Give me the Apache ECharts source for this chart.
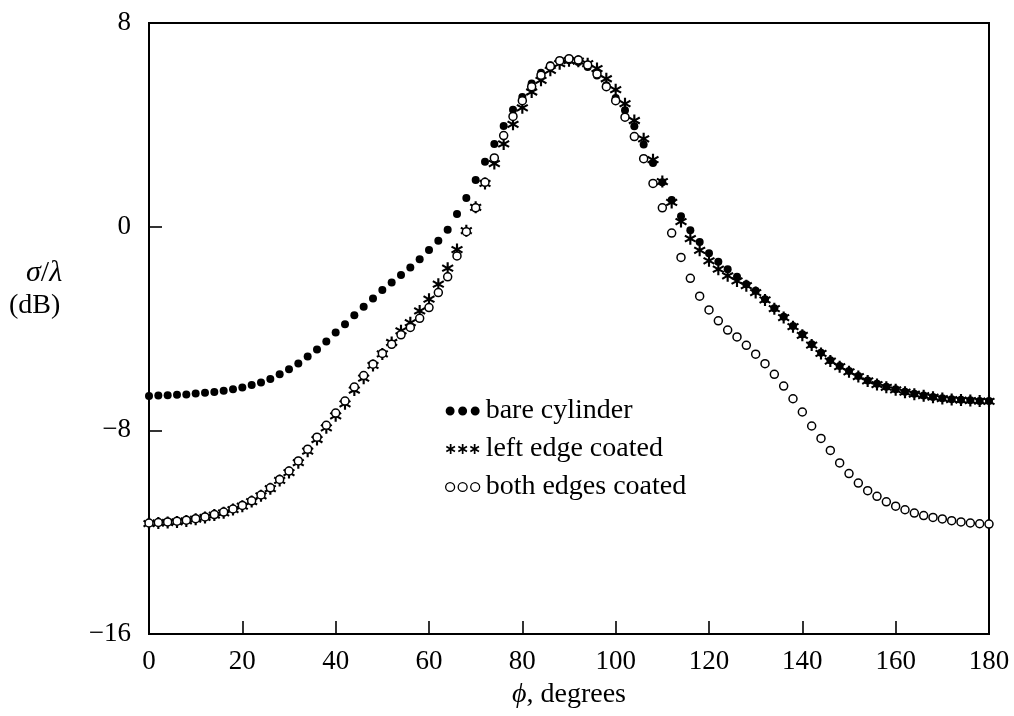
<!DOCTYPE html>
<html>
<head>
<meta charset="utf-8">
<script src="https://cdn.jsdelivr.net/npm/echarts@6/dist/echarts.min.js"></script>
<style>
html,body{margin:0;padding:0;background:#fff;}
#chart{width:1014px;height:716px;}
</style>
</head>
<body>
<div id="chart"></div>
<script>
// ---- data ----
const phiDeg = [
  0,2,4,6,8,10,12,14,16,18,
  20,22,24,26,28,30,32,34,36,38,
  40,42,44,46,48,50,52,54,56,58,
  60,62,64,66,68,70,72,74,76,78,
  80,82,84,86,88,90,92,94,96,98,
  100,102,104,106,108,110,112,114,116,118,
  120,122,124,126,128,130,132,134,136,138,
  140,142,144,146,148,150,152,154,156,158,
  160,162,164,166,168,170,172,174,176,178,
  180
];
const bareCylinder = [
  -6.65,-6.63,-6.62,-6.60,-6.59,-6.55,-6.52,-6.49,-6.45,-6.39,
  -6.32,-6.22,-6.12,-5.98,-5.80,-5.60,-5.37,-5.10,-4.82,-4.51,
  -4.16,-3.83,-3.48,-3.15,-2.82,-2.49,-2.19,-1.90,-1.60,-1.28,
  -0.92,-0.55,-0.12,0.50,1.13,1.83,2.55,3.25,3.95,4.59,
  5.09,5.62,6.05,6.34,6.51,6.54,6.47,6.27,5.94,5.55,
  5.05,4.57,3.94,3.23,2.50,1.74,1.05,0.41,-0.14,-0.60,
  -1.04,-1.38,-1.67,-1.97,-2.26,-2.52,-2.85,-3.20,-3.54,-3.90,
  -4.23,-4.62,-4.95,-5.25,-5.47,-5.67,-5.87,-6.04,-6.17,-6.29,
  -6.39,-6.48,-6.56,-6.63,-6.69,-6.74,-6.78,-6.80,-6.82,-6.85,
  -6.85
];
const leftEdgeCoated = [
  -11.66,-11.64,-11.62,-11.60,-11.56,-11.49,-11.42,-11.33,-11.24,-11.11,
  -10.98,-10.80,-10.57,-10.29,-9.97,-9.66,-9.27,-8.82,-8.36,-7.90,
  -7.43,-6.96,-6.42,-5.95,-5.45,-5.00,-4.55,-4.09,-3.77,-3.31,
  -2.85,-2.26,-1.63,-0.90,-0.16,0.76,1.70,2.48,3.25,4.02,
  4.67,5.29,5.75,6.14,6.40,6.52,6.50,6.40,6.21,5.81,
  5.38,4.83,4.17,3.45,2.63,1.77,0.95,0.20,-0.47,-0.93,
  -1.34,-1.67,-1.93,-2.13,-2.32,-2.59,-2.88,-3.22,-3.57,-3.93,
  -4.27,-4.65,-4.98,-5.28,-5.50,-5.70,-5.89,-6.06,-6.20,-6.31,
  -6.41,-6.50,-6.58,-6.64,-6.70,-6.75,-6.79,-6.81,-6.83,-6.85,
  -6.86
];
const bothEdgesCoated = [
  -11.64,-11.62,-11.60,-11.57,-11.53,-11.47,-11.40,-11.31,-11.21,-11.09,
  -10.95,-10.77,-10.54,-10.26,-9.93,-9.60,-9.20,-8.74,-8.27,-7.80,
  -7.32,-6.85,-6.30,-5.85,-5.40,-4.98,-4.62,-4.25,-3.96,-3.60,
  -3.18,-2.59,-1.97,-1.15,-0.20,0.74,1.74,2.70,3.58,4.33,
  4.95,5.50,5.95,6.30,6.52,6.60,6.55,6.35,6.00,5.50,
  4.95,4.30,3.54,2.67,1.70,0.74,-0.25,-1.21,-2.03,-2.73,
  -3.27,-3.70,-4.06,-4.33,-4.66,-5.01,-5.38,-5.80,-6.26,-6.76,
  -7.28,-7.83,-8.32,-8.79,-9.28,-9.70,-10.07,-10.37,-10.59,-10.81,
  -10.98,-11.12,-11.25,-11.35,-11.42,-11.48,-11.55,-11.60,-11.64,-11.67,
  -11.68
];
const seriesNames = ['bare cylinder', 'left edge coated', 'both edges coated'];
const xTicks = [0, 20, 40, 60, 80, 100, 120, 140, 160, 180];
const yTicks = [-16, -8, 0, 8];

// ---- styling helpers ----
const FONT = '"Liberation Serif", "DejaVu Serif", serif';
function pairs(ys) { return phiDeg.map((p, i) => [p, ys[i]]); }

// six-armed asterisk outline (single polygon) in a 20x20 box, offset dx
function asterisk(dx) {
  const R = 10, w = 1.7, ri = 2 * w, c = 10;
  const pts = [];
  for (let k = 0; k < 6; k++) {
    const a = (-90 + 60 * k) * Math.PI / 180;
    const b = a - Math.PI / 6;
    const dir = [Math.cos(a), Math.sin(a)], perp = [-Math.sin(a), Math.cos(a)];
    pts.push([c + ri * Math.cos(b), c + ri * Math.sin(b)]);
    pts.push([c + R * dir[0] - w * perp[0], c + R * dir[1] - w * perp[1]]);
    pts.push([c + R * dir[0] + w * perp[0], c + R * dir[1] + w * perp[1]]);
  }
  return pts.map((p, i) => (i ? 'L' : 'M') + (p[0] + dx).toFixed(3) + ',' + p[1].toFixed(3)).join('') + 'Z';
}
const starSymbol = 'path://' + asterisk(0);
const starLegend = 'path://' + asterisk(0) + asterisk(24) + asterisk(48);
function circ(cx, r) {
  return 'M' + (cx - r) + ',' + r + 'a' + r + ',' + r + ' 0 1,0 ' + (2 * r) + ',0' +
         'a' + r + ',' + r + ' 0 1,0 ' + (-2 * r) + ',0Z';
}
const dotsLegend = 'path://' + circ(5, 5) + circ(19, 5) + circ(33, 5);

const chart = echarts.init(document.getElementById('chart'), null, { renderer: 'canvas' });
chart.setOption({
  animation: false,
  backgroundColor: '#fff',
  textStyle: { fontFamily: FONT, color: '#000' },
  grid: {
    left: 149, right: 25, top: 23, bottom: 82,
    show: true, borderColor: '#000', borderWidth: 2, backgroundColor: 'transparent'
  },
  legend: {
    orient: 'vertical',
    left: 440, top: 392,
    itemGap: 10,
    itemWidth: 34, itemHeight: 10,
    textStyle: { fontFamily: FONT, fontSize: 28, color: '#000', padding: [0, 0, 0, 1] },
    data: [
      { name: seriesNames[0], icon: dotsLegend, itemStyle: { color: '#000', borderWidth: 0 } },
      { name: seriesNames[1], icon: starLegend, itemStyle: { color: '#000', borderWidth: 0 } },
      { name: seriesNames[2], icon: dotsLegend, itemStyle: { color: '#fff', borderColor: '#000', borderWidth: 1.3 } }
    ],
    selectedMode: false
  },
  xAxis: {
    type: 'value', min: 0, max: 180, interval: 20,
    axisLine: { show: true, onZero: false, lineStyle: { color: '#000', width: 2 } },
    axisTick: { show: true, inside: true, length: 13, lineStyle: { color: '#000', width: 1.6 } },
    axisLabel: { fontFamily: FONT, fontSize: 27, color: '#000', margin: 14,
      customValues: xTicks },
    splitLine: { show: false },
    name: '{i|ϕ}, degrees',
    nameLocation: 'middle', nameGap: 47,
    nameTextStyle: { fontFamily: FONT, fontSize: 28, color: '#000',
      rich: { i: { fontFamily: FONT, fontStyle: 'italic', fontSize: 28 } } }
  },
  yAxis: {
    type: 'value', min: -16, max: 8, interval: 8,
    axisLine: { show: true, onZero: false, lineStyle: { color: '#000', width: 2 } },
    axisTick: { show: true, inside: true, length: 13, lineStyle: { color: '#000', width: 1.6 } },
    axisLabel: { fontFamily: FONT, fontSize: 27, color: '#000', margin: 18,
      customValues: yTicks,
      formatter: v => String(v).replace('-', '\u2212') },
    splitLine: { show: false }
  },
  graphic: [
    { type: 'text', left: 26, top: 258,
      style: { text: '{i|σ}/{i|λ}', fontFamily: FONT, fontSize: 30, fill: '#000',
        rich: { i: { fontFamily: FONT, fontStyle: 'italic', fontSize: 30 } } } },
    { type: 'text', left: 9, top: 292,
      style: { text: '(dB)', fontFamily: FONT, fontSize: 28, fill: '#000' } }
  ],
  series: [
    { name: seriesNames[0], type: 'scatter', data: pairs(bareCylinder),
      symbol: 'circle', symbolSize: 8, itemStyle: { color: '#000', opacity: 1 }, z: 2 },
    { name: seriesNames[1], type: 'scatter', data: pairs(leftEdgeCoated),
      symbol: starSymbol, symbolSize: 12, itemStyle: { color: '#000', opacity: 1 }, z: 3 },
    { name: seriesNames[2], type: 'scatter', data: pairs(bothEdgesCoated),
      symbol: 'circle', symbolSize: 8,
      itemStyle: { color: '#fff', borderColor: '#000', borderWidth: 1.5, opacity: 1 }, z: 4 }
  ]
});
</script>
</body>
</html>
